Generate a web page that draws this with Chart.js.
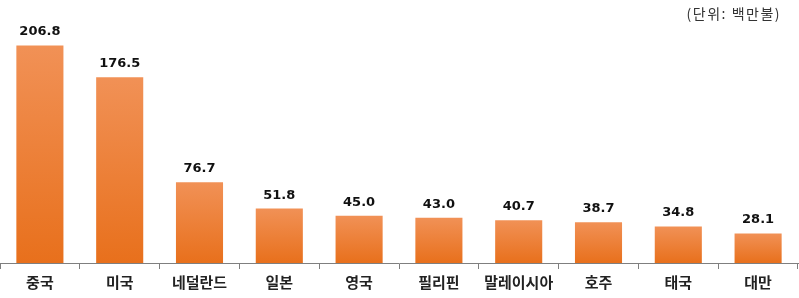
<!DOCTYPE html>
<html><head><meta charset="utf-8">
<script src="https://cdn.jsdelivr.net/npm/chart.js@4/dist/chart.umd.min.js"></script>
<style>html,body{margin:0;padding:0;background:#fff}#wrap{width:799px;height:298px;position:relative}</style>
</head><body><div id="wrap"><canvas id="c" width="799" height="298"></canvas></div>
<script>
const categories = ['중국','미국','네덜란드','일본','영국','필리핀','말레이시아','호주','태국','대만'];
const values = [206.8,176.5,76.7,51.8,45.0,43.0,40.7,38.7,34.8,28.1];
const unitLabel = '(단위: 백만불)';
const yMax = 250;

const labelPlugin = {
  id:'labels',
  afterDatasetsDraw(chart){
    const ctx = chart.ctx;
    const meta = chart.getDatasetMeta(0);
    ctx.save();
    ctx.font = 'bold 13px "DejaVu Sans", Verdana, sans-serif';
    ctx.fillStyle = '#111';
    ctx.textAlign = 'center';
    ctx.textBaseline = 'alphabetic';
    meta.data.forEach((bar,i)=>{
      ctx.fillText(values[i].toFixed(1), bar.x, bar.y - 10);
    });
    ctx.font = '14px "Noto Sans CJK KR", sans-serif';
    ctx.letterSpacing = '1.5px';
    ctx.fillStyle = '#333';
    ctx.textAlign = 'right';
    ctx.textBaseline = 'middle';
    ctx.fillText(unitLabel, 781, 14);
    ctx.restore();
  }
};

new Chart(document.getElementById('c'), {
  type:'bar',
  data:{labels:categories, datasets:[{
    data:values,
    backgroundColor(c){
      const chart=c.chart; const area=chart.chartArea;
      if(!area || c.dataIndex===undefined) return '#ee7d35';
      const y=chart.scales.y;
      const top=y.getPixelForValue(values[c.dataIndex]);
      const g=chart.ctx.createLinearGradient(0,top,0,area.bottom);
      g.addColorStop(0,'#f19156');
      g.addColorStop(1,'#e8701c');
      return g;
    },
    borderWidth:0,
    barPercentage:0.59,
    categoryPercentage:1
  }]},
  options:{
    responsive:false, animation:false,
    layout:{padding:{left:-2,right:1,top:0,bottom:3}},
    plugins:{legend:{display:false},tooltip:{enabled:false}},
    scales:{
      x:{
        offset:true,
        grid:{display:true,drawOnChartArea:false,drawTicks:true,tickLength:6,color:'#7f7f7f',offset:true},
        border:{display:true,color:'#7f7f7f'},
        ticks:{color:'#222',font:{family:'"Noto Sans CJK KR", sans-serif',size:15,weight:'bold'},padding:4,maxRotation:0,autoSkip:false}
      },
      y:{display:false,min:0,max:yMax}
    }
  },
  plugins:[labelPlugin]
});
</script></body></html>
